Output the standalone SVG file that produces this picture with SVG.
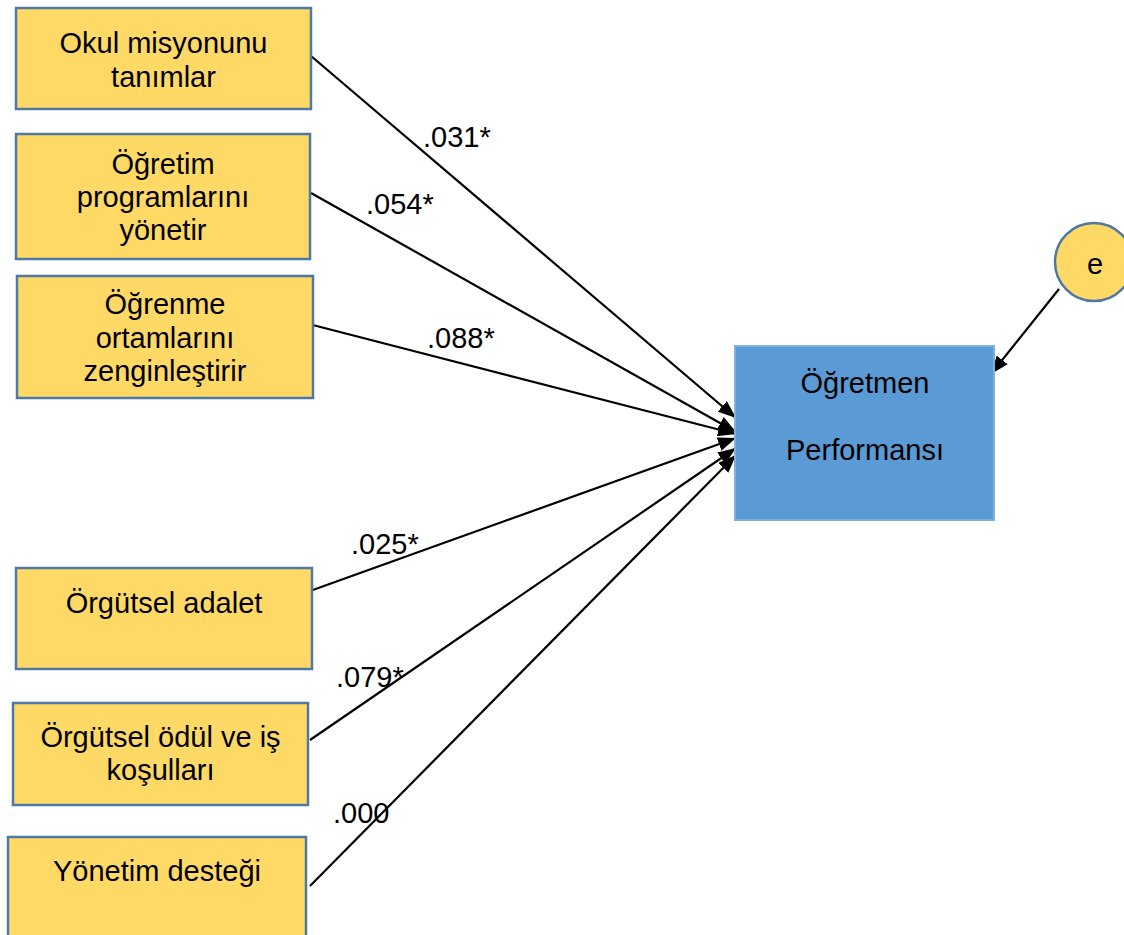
<svg xmlns="http://www.w3.org/2000/svg" width="1124" height="935" viewBox="0 0 1124 935">
<style>
.box{fill:#FFD966;stroke:#4E78A5;stroke-width:2.5}
.tgt{fill:#5B9BD5;stroke:#7EB0DF;stroke-width:2}
text{font-family:"Liberation Sans",Arial,sans-serif;font-size:29px;fill:#000}
.c{text-anchor:middle}
.ln{stroke:#000;stroke-width:2.2;fill:none}
</style>
<defs>
<marker id="a" viewBox="0 0 18 14" refX="18" refY="7" markerWidth="18" markerHeight="14" markerUnits="userSpaceOnUse" orient="auto">
<path d="M0,0 L18,7 L0,14 z" fill="#000"/>
</marker>
</defs>
<rect width="1124" height="935" fill="#fff"/>
<g id="connectors">
<line class="ln" x1="311" y1="56" x2="736" y2="418" marker-end="url(#a)"/>
<line class="ln" x1="311" y1="193" x2="736" y2="432" marker-end="url(#a)"/>
<line class="ln" x1="305" y1="323" x2="736" y2="434" marker-end="url(#a)"/>
<line class="ln" x1="310" y1="591" x2="736" y2="438" marker-end="url(#a)"/>
<line class="ln" x1="310" y1="740" x2="736" y2="448" marker-end="url(#a)"/>
<line class="ln" x1="310" y1="886" x2="736" y2="455" marker-end="url(#a)"/>
<line class="ln" x1="1059" y1="289" x2="991" y2="374" marker-end="url(#a)"/>
<text x="423" y="147">.031*</text>
<text x="366" y="214">.054*</text>
<text x="427" y="348">.088*</text>
<text x="351" y="554">.025*</text>
<text x="336" y="687">.079*</text>
<text x="333" y="823">.000</text>
</g>
<g id="n1">
<rect class="box" x="16" y="8" width="295" height="101"/>
<text class="c" x="163.5" y="53">Okul misyonunu</text>
<text class="c" x="163.5" y="87">tanımlar</text>
</g>
<g id="n2">
<rect class="box" x="16" y="134" width="294" height="125"/>
<text class="c" x="163" y="174">Öğretim</text>
<text class="c" x="163" y="207">programlarını</text>
<text class="c" x="163" y="240">yönetir</text>
</g>
<g id="n3">
<rect class="box" x="17" y="276" width="296" height="122"/>
<text class="c" x="165" y="314">Öğrenme</text>
<text class="c" x="165" y="348">ortamlarını</text>
<text class="c" x="165" y="381">zenginleştirir</text>
</g>
<g id="n4">
<rect class="box" x="16" y="568" width="296" height="101"/>
<text class="c" x="164" y="613">Örgütsel adalet</text>
</g>
<g id="n5">
<rect class="box" x="13" y="703" width="295" height="102"/>
<text class="c" x="160.5" y="747">Örgütsel ödül ve iş</text>
<text class="c" x="160.5" y="780">koşulları</text>
</g>
<g id="n6">
<rect class="box" x="8" y="837" width="298" height="110"/>
<text class="c" x="157" y="881">Yönetim desteği</text>
</g>
<g id="target">
<rect class="tgt" x="735" y="346" width="259" height="174"/>
<text class="c" x="865" y="393">Öğretmen</text>
<text class="c" x="865" y="460">Performansı</text>
</g>
<g id="e">
<circle class="box" cx="1094" cy="262" r="39"/>
<text class="c" x="1095" y="274">e</text>
</g>
</svg>
